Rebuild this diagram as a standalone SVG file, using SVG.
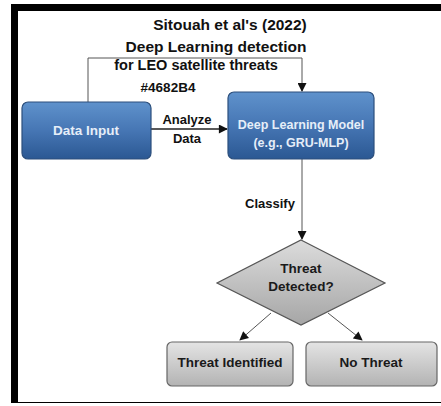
<svg xmlns="http://www.w3.org/2000/svg" width="441" height="406" viewBox="0 0 441 406">
<defs>
<linearGradient id="blue" x1="0" y1="0" x2="0" y2="1">
<stop offset="0" stop-color="#5f92cc"/>
<stop offset="0.5" stop-color="#4676b4"/>
<stop offset="1" stop-color="#2b5893"/>
</linearGradient>
<linearGradient id="grey" x1="0" y1="0" x2="0" y2="1">
<stop offset="0" stop-color="#e4e4e4"/>
<stop offset="1" stop-color="#b3b3b3"/>
</linearGradient>
<linearGradient id="dia" x1="0" y1="0" x2="0" y2="1">
<stop offset="0" stop-color="#dcdcdc"/>
<stop offset="1" stop-color="#a6a6a6"/>
</linearGradient>
<marker id="arr" viewBox="0 0 10 10" refX="9" refY="5" markerWidth="10" markerHeight="9" markerUnits="userSpaceOnUse" orient="auto">
<path d="M0,0 L10,5 L0,10 z" fill="#111"/>
</marker>
</defs>
<style>
text{font-family:"Liberation Sans",Arial,sans-serif;font-weight:bold;text-anchor:middle}
.t{fill:#111;font-size:15.5px}
.lab{fill:#111;font-size:13px}
.wb{fill:#e6eef8;font-size:12.5px}
.nb{fill:#1a1a1a;font-size:13.5px}
.blue{fill:url(#blue);stroke:#2c4f7c;stroke-width:1.2}
.gbox{fill:url(#grey);stroke:#666;stroke-width:1.2}
.con{fill:none;stroke:#222;stroke-width:1.3}
.thin{fill:none;stroke:#555;stroke-width:1}
</style>
<rect x="0" y="0" width="441" height="406" fill="#fff"/>
<rect x="11" y="4" width="430" height="399" fill="#000"/>
<rect x="18" y="11" width="423" height="391" fill="#fff"/>

<g id="title">
<text class="t" x="230" y="30">Sitouah et al's (2022)</text>
<text class="t" x="216" y="52">Deep Learning detection</text>
<text class="lab" x="196" y="70" style="font-size:14.5px">for LEO satellite threats</text>
<text class="lab" x="168" y="92" style="font-size:13.5px">#4682B4</text>
</g>

<g id="connectors">
<path class="thin" d="M88,102 V58 H302 V91" marker-end="url(#arr)"/>
<path class="con" d="M151,129 H227" marker-end="url(#arr)"/>
<text class="lab" x="187" y="124">Analyze</text>
<text class="lab" x="187" y="143">Data</text>
<path class="thin" d="M302,159 V239" marker-end="url(#arr)"/>
<text class="lab" x="270" y="208">Classify</text>
<path class="thin" d="M271,313 L240,340" marker-end="url(#arr)"/>
<path class="thin" d="M328,313 L362,340" marker-end="url(#arr)"/>
</g>

<g id="data-input">
<rect class="blue" x="22" y="102" width="129" height="57" rx="6"/>
<text class="wb" x="86" y="135" style="font-size:13.5px">Data Input</text>
</g>

<g id="dl-model">
<rect class="blue" x="228" y="92" width="146" height="67" rx="6"/>
<text class="wb" x="301" y="129">Deep Learning Model</text>
<text class="wb" x="301" y="147">(e.g., GRU-MLP)</text>
</g>

<g id="decision">
<polygon points="301,240 385,283 301,325 217,283" fill="url(#dia)" stroke="#555" stroke-width="1.2"/>
<text class="nb" x="301" y="273">Threat</text>
<text class="nb" x="301" y="291">Detected?</text>
</g>

<g id="threat-identified">
<rect class="gbox" x="167" y="342" width="126" height="44" rx="5"/>
<text class="nb" x="230" y="367">Threat Identified</text>
</g>

<g id="no-threat">
<rect class="gbox" x="306" y="342" width="131" height="44" rx="5"/>
<text class="nb" x="371" y="367">No Threat</text>
</g>
</svg>
